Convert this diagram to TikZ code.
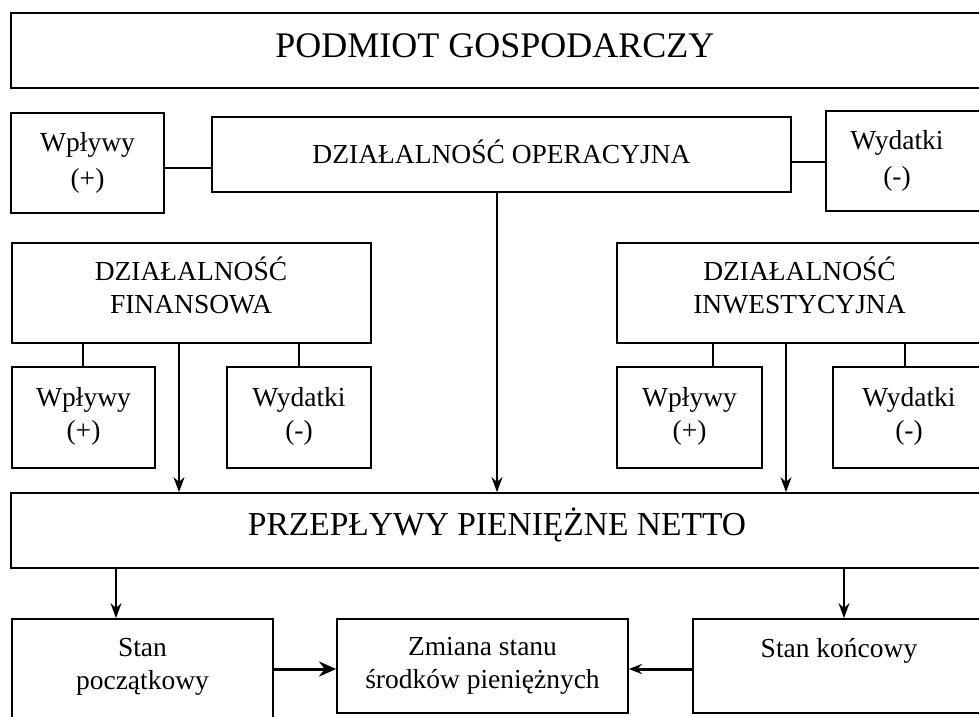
\documentclass[tikz,border=0pt]{standalone}
\usepackage{fontspec}
\setmainfont{Liberation Serif}
\usetikzlibrary{arrows.meta,fit}
\begin{document}
\begin{tikzpicture}[x=1pt,y=-1pt,
  box/.style={draw, line width=1.8pt, inner sep=0pt, rectangle},
  lbl/.style={font=\fontsize{27.5}{33}\selectfont, align=center, inner sep=0pt},
  lblw/.style={font=\fontsize{27.5}{36}\selectfont, align=center, inner sep=0pt},
  big/.style={font=\fontsize{36}{42}\selectfont, inner sep=0pt},
  bigb/.style={font=\fontsize{33.5}{42}\selectfont, inner sep=0pt},
  conn/.style={line width=2pt},
  arr/.style={line width=2pt, -{Stealth[length=15pt,width=11pt]}},
  harr/.style={line width=3pt, -{Stealth[length=17pt,width=15pt]}},
  harrb/.style={line width=3pt, -{Stealth[length=13pt,width=10pt]}}
]
\useasboundingbox (0,0) rectangle (979,716);
\clip (0,0) rectangle (979,716);

% boxes
\node[box, fit={(11,13) (990,88)}] (pod) {};
\node[box, fit={(11,113) (164,213)}] (wpl1) {};
\node[box, fit={(212,117) (791,192)}] (op) {};
\node[box, fit={(826,111) (990,211)}] (wyd1) {};
\node[box, fit={(12,243) (371,343)}] (fin) {};
\node[box, fit={(12,367) (155,468)}] (finw) {};
\node[box, fit={(227,367) (371,468)}] (find) {};
\node[box, fit={(617,243) (990,343)}] (inv) {};
\node[box, fit={(617,367) (762,468)}] (invw) {};
\node[box, fit={(833,367) (990,468)}] (invd) {};
\node[box, fit={(11,493) (990,568)}] (ppn) {};
\node[box, fit={(12,619) (273,725)}] (sp) {};
\node[box, fit={(337,619) (628,713)}] (zm) {};
\node[box, fit={(693,619) (990,713)}] (sk) {};

% texts
\node[big] (podt) at (495,49) {\strut PODMIOT GOSPODARCZY};
\node[lblw] (wpl1t) at (87.5,161.8) {\strut Wpływy\\\strut (+)};
\node[lbl] (opt) at (501.5,156.4) {\strut DZIAŁALNOŚĆ OPERACYJNA};
\node[lblw] (wyd1t) at (897,159.8) {\strut Wydatki\\\strut (-)};
\node[lbl] (fint) at (191,289.9) {\strut DZIAŁALNOŚĆ\\\strut FINANSOWA};
\node[lbl] (finwt) at (83.5,415.9) {\strut Wpływy\\\strut (+)};
\node[lbl] (findt) at (299,415.9) {\strut Wydatki\\\strut (-)};
\node[lbl] (invt) at (799.5,289.9) {\strut DZIAŁALNOŚĆ\\\strut INWESTYCYJNA};
\node[lbl] (invwt) at (689.5,415.9) {\strut Wpływy\\\strut (+)};
\node[lbl] (invdt) at (909,415.9) {\strut Wydatki\\\strut (-)};
\node[bigb] (ppnt) at (497,527) {\strut PRZEPŁYWY PIENIĘŻNE NETTO};
\node[lbl] (spt) at (142.5,666.5) {\strut Stan\\\strut początkowy};
\node[lbl] (zmt) at (482.5,665.5) {\strut Zmiana stanu\\\strut środków pieniężnych};
\node[lbl] (skt) at (839,650.4) {\strut Stan końcowy};

% plain connectors
\draw[conn] (wpl1.east |- 0,168) -- (op.west |- 0,168);
\draw[conn] (op.east |- 0,162) -- (wyd1.west |- 0,162);
\draw[conn] (fin.south -| 83,0) -- (finw.north -| 83,0);
\draw[conn] (fin.south -| 299,0) -- (find.north -| 299,0);
\draw[conn] (inv.south -| 713,0) -- (invw.north -| 713,0);
\draw[conn] (inv.south -| 905,0) -- (invd.north -| 905,0);

% arrows into net flows
\draw[arr] (fin.south -| 179,0) -- (ppn.north -| 179,0);
\draw[arr] (op.south -| 497,0) -- (ppn.north -| 497,0);
\draw[arr] (inv.south -| 786,0) -- (ppn.north -| 786,0);

% arrows out of net flows
\draw[arr] (ppn.south -| 116,0) -- (sp.north -| 116,0);
\draw[arr] (ppn.south -| 844,0) -- (sk.north -| 844,0);

% bottom horizontal arrows
\draw[harr] (sp.east |- 0,669) -- (zm.west |- 0,669);
\draw[harrb] (sk.west |- 0,669) -- (zm.east |- 0,669);
\end{tikzpicture}
\end{document}
